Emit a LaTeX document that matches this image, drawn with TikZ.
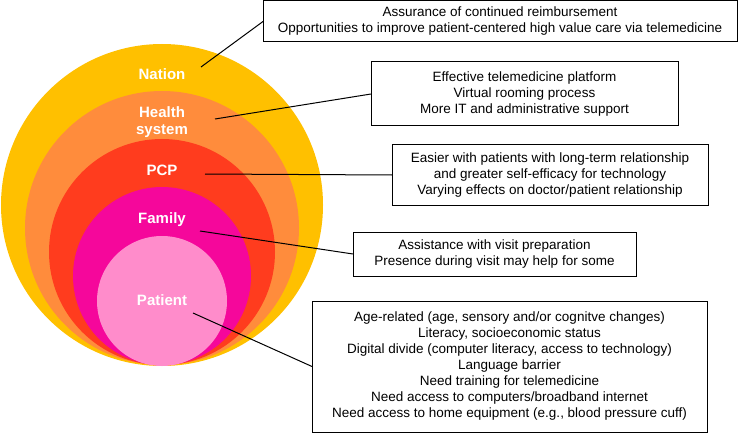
\documentclass[tikz,border=0pt]{standalone}
\usepackage{fontspec}
\setmainfont{Liberation Sans}
\definecolor{cnation}{HTML}{FFC000}
\definecolor{chealth}{HTML}{FF8C3C}
\definecolor{cpcp}{HTML}{FF3C1E}
\definecolor{cfamily}{HTML}{F5079B}
\definecolor{cpatient}{HTML}{FF8CCB}
\begin{document}
\begin{tikzpicture}[x=1pt,y=-1pt,
  lvl/.style={text=white, font=\fontsize{15}{16.5}\selectfont\bfseries, align=center, inner sep=0pt},
  infobox/.style={draw=black, line width=1pt, fill=white, align=center, font=\fontsize{13.5}{16}\selectfont, inner sep=0pt, outer sep=0pt},
  conn/.style={draw=black, line width=1pt}]
\useasboundingbox (0,0) rectangle (739,433);
% circles
\fill[cnation] (162,205) circle (161);
\fill[chealth] (162,228) circle (137);
\fill[cpcp] (162,252) circle (113);
\fill[cfamily] (162,276) circle (89);
\fill[cpatient] (162,301) circle (65);
% labels
\node[lvl] (nation) at (162,74) {Nation};
\node[lvl] (health) at (162,122) {Health\\system};
\node[lvl] (pcp) at (162,170) {PCP};
\node[lvl] (family) at (162,220) {Family};
\node[lvl] (patient) at (162,300) {Patient};
% connector start points
\coordinate (cn) at (201,67);
\coordinate (ch) at (215,119);
\coordinate (cp) at (205,174);
\coordinate (cf) at (200,231);
\coordinate (cpa) at (193,313);
% boxes
\node[infobox, minimum width=474pt, minimum height=41pt] (b1) at (500,21.5) {Assurance of continued reimbursement\\Opportunities to improve patient-centered high value care via telemedicine};
\node[infobox, minimum width=307pt, minimum height=64pt] (b2) at (524.5,94) {Effective telemedicine platform\\Virtual rooming process\\More IT and administrative support};
\node[infobox, minimum width=316pt, minimum height=60pt] (b3) at (550,175) {Easier with patients with long-term relationship\\and greater self-efficacy for technology\\Varying effects on doctor/patient relationship};
\node[infobox, minimum width=283pt, minimum height=44pt] (b4) at (494.5,254) {Assistance with visit preparation\\Presence during visit may help for some};
\node[infobox, minimum width=395pt, minimum height=131pt] (b5) at (509.5,366.5) {Age-related (age, sensory and/or cognitve changes)\\Literacy, socioeconomic status\\Digital divide (computer literacy, access to technology)\\Language barrier\\Need training for telemedicine\\Need access to computers/broadband internet\\Need access to home equipment (e.g., blood pressure cuff)};
\draw[conn] (cn) -- (b1.west);
\draw[conn] (ch) -- (b2.west);
\draw[conn] (cp) -- (b3.west);
\draw[conn] (cf) -- (b4.west);
\draw[conn] (cpa) -- (b5.west);
\end{tikzpicture}
\end{document}
